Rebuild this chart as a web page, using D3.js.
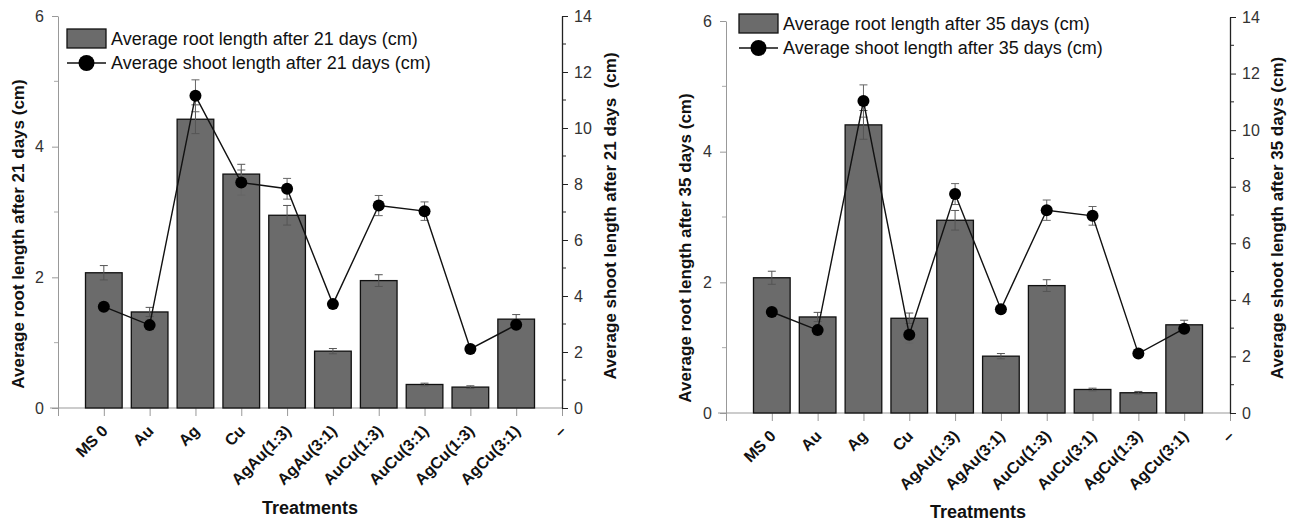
<!DOCTYPE html>
<html>
<head>
<meta charset="utf-8">
<script src="https://d3js.org/d3.v7.min.js"></script>
<style>
    body { margin: 0; background: #fff; }
    svg text { font-family: Arial, "Liberation Sans", sans-serif; }
</style>
</head>
<body>
<svg id="chart" width="1295" height="524"></svg>
<script>
// treatments on the x axis (last tick is the stray dash of the original)
var categories = ["MS 0", "Au", "Ag", "Cu", "AgAu(1:3)", "AgAu(3:1)", "AuCu(1:3)", "AuCu(3:1)", "AgCu(1:3)", "AgCu(3:1)"];
var endLabel = "\u2013";

// 21 days
var root21 = [2.07, 1.47, 4.42, 3.58, 2.95, 0.87, 1.95, 0.36, 0.32, 1.36];
var root21Err = [0.11, 0.07, 0.22, 0.15, 0.15, 0.04, 0.09, 0.02, 0.02, 0.07];
var shoot21 = [3.62, 2.96, 11.15, 8.05, 7.83, 3.71, 7.23, 7.03, 2.11, 2.97];
var shoot21Err = [0.15, 0.2, 0.57, 0.45, 0.37, 0.1, 0.36, 0.33, 0.08, 0.12];

// 35 days
var root35 = [2.07, 1.47, 4.41, 1.45, 2.95, 0.87, 1.95, 0.36, 0.31, 1.35];
var root35Err = [0.1, 0.07, 0.22, 0.08, 0.15, 0.04, 0.09, 0.02, 0.02, 0.07];
var shoot35 = [3.57, 2.93, 11.03, 2.77, 7.74, 3.67, 7.17, 6.97, 2.1, 2.98];
var shoot35Err = [0.15, 0.2, 0.57, 0.3, 0.37, 0.1, 0.36, 0.33, 0.08, 0.12];

var rootTicks = [0, 2, 4, 6];
var rootMinor = [1, 3, 5];
var shootTicks = [0, 2, 4, 6, 8, 10, 12, 14];
var shootMinor = [1, 3, 5, 7, 9, 11, 13];

var barColor = "#6b6b6b";
var svg = d3.select("#chart");

function drawPanel(p) {
    var g = svg.append("g");

    var x = d3.scaleLinear().domain([0, categories.length + 1]).range([p.x0, p.x1]);
    var yL = d3.scaleLinear().domain([0, 6]).range([p.yZero, p.yTopL]);
    var yR = d3.scaleLinear().domain([0, 14]).range([p.yZero, p.yTopR]);
    var bw = (x(1) - x(0)) * 0.8;

    // bottom axis
    var xAxis = g.append("g")
        .attr("transform", "translate(0," + p.yZero + ")")
        .call(d3.axisBottom(x)
            .tickValues(d3.range(0, categories.length + 2))
            .tickSize(8)
            .tickFormat(function () { return ""; }));
    xAxis.select(".domain").attr("stroke", "#999").attr("d", "M" + (p.x0 - 8) + ",0H" + p.x1);
    xAxis.selectAll(".tick line").attr("stroke", "#999");

    var labels = categories.concat([endLabel]);
    g.selectAll(".xlab")
        .data(labels)
        .enter().append("text")
        .attr("class", "xlab")
        .attr("text-anchor", "end")
        .attr("transform", function (d, i) {
            return "translate(" + (x(i + 1) + 1) + "," + (p.yZero + 20) + ") rotate(-45)";
        })
        .attr("dy", "0.35em")
        .style("font-size", "16px")
        .style("font-weight", "bold")
        .style("fill", "#111")
        .text(function (d) { return d; });

    // left axis
    var la = g.append("g")
        .attr("transform", "translate(" + p.x0 + ",0)")
        .call(d3.axisLeft(yL).tickValues(rootTicks).tickFormat(d3.format("d"))
            .tickSize(6).tickSizeOuter(0).tickPadding(8));
    la.select(".domain").attr("stroke", "#999");
    la.selectAll(".tick line").attr("stroke", "#999");
    la.selectAll(".tick text").style("font-size", "16px").style("fill", "#333");
    g.selectAll(".lminor").data(rootMinor).enter().append("line")
        .attr("x1", p.x0).attr("x2", p.x0 - 4)
        .attr("y1", function (d) { return yL(d); }).attr("y2", function (d) { return yL(d); })
        .attr("stroke", "#aaa");

    // right axis
    var ra = g.append("g")
        .attr("transform", "translate(" + p.x1 + ",0)")
        .call(d3.axisRight(yR).tickValues(shootTicks).tickFormat(d3.format("d"))
            .tickSize(6).tickSizeOuter(0).tickPadding(6));
    ra.select(".domain").attr("stroke", "#222").attr("stroke-width", 1.3);
    ra.selectAll(".tick line").attr("stroke", "#222");
    ra.selectAll(".tick text").style("font-size", "16px").style("fill", "#333");
    g.selectAll(".rminor").data(shootMinor).enter().append("line")
        .attr("x1", p.x1).attr("x2", p.x1 + 4)
        .attr("y1", function (d) { return yR(d); }).attr("y2", function (d) { return yR(d); })
        .attr("stroke", "#222");

    // bars
    g.selectAll(".bar")
        .data(p.root)
        .enter().append("rect")
        .attr("class", "bar")
        .attr("x", function (d, i) { return x(i + 1) - bw / 2; })
        .attr("y", function (d) { return yL(d); })
        .attr("width", bw)
        .attr("height", function (d) { return yL(0) - yL(d); })
        .attr("fill", barColor)
        .attr("stroke", "#111")
        .attr("stroke-width", 1.3);

    // error bars
    function errBars(vals, errs, y, color) {
        vals.forEach(function (v, i) {
            var cx = x(i + 1), t = y(v + errs[i]), b = y(v - errs[i]);
            g.append("line").attr("x1", cx).attr("x2", cx).attr("y1", t).attr("y2", b).attr("stroke", color);
            g.append("line").attr("x1", cx - 4).attr("x2", cx + 4).attr("y1", t).attr("y2", t).attr("stroke", color);
            g.append("line").attr("x1", cx - 4).attr("x2", cx + 4).attr("y1", b).attr("y2", b).attr("stroke", color);
        });
    }
    errBars(p.root, p.rootErr, yL, "#555");
    errBars(p.shoot, p.shootErr, yR, "#666");

    // shoot line
    var line = d3.line()
        .x(function (d, i) { return x(i + 1); })
        .y(function (d) { return yR(d); });
    g.append("path")
        .datum(p.shoot)
        .attr("d", line)
        .attr("fill", "none")
        .attr("stroke", "#111")
        .attr("stroke-width", 1.4);
    g.selectAll(".dot")
        .data(p.shoot)
        .enter().append("circle")
        .attr("cx", function (d, i) { return x(i + 1); })
        .attr("cy", function (d) { return yR(d); })
        .attr("r", 6)
        .attr("fill", "#000");

    // axis titles
    g.append("text")
        .attr("transform", "translate(" + p.lTitleX + "," + p.lTitleY + ") rotate(-90)")
        .attr("text-anchor", "middle").attr("dy", "0.35em")
        .style("font-size", "17px").style("font-weight", "bold").style("fill", "#111")
        .text(p.leftTitle);
    g.append("text")
        .attr("transform", "translate(" + p.rTitleX + "," + p.rTitleY + ") rotate(-90)")
        .attr("text-anchor", "middle").attr("dy", "0.35em")
        .style("font-size", "17px").style("font-weight", "bold").style("fill", "#111")
        .style("white-space", "pre")
        .text(p.rightTitle);
    g.append("text")
        .attr("x", p.xTitleX).attr("y", p.xTitleY)
        .attr("text-anchor", "middle")
        .style("font-size", "18px").style("font-weight", "bold").style("fill", "#111")
        .text("Treatments");

    // legend
    var lg = g.append("g").attr("transform", "translate(" + p.legX + "," + p.legY + ")");
    lg.append("rect").attr("x", 0).attr("y", 0).attr("width", 39).attr("height", 19)
        .attr("fill", barColor).attr("stroke", "#111").attr("stroke-width", 1.3);
    lg.append("text").attr("x", 44).attr("y", 10).attr("dy", "0.35em")
        .style("font-size", "18px").style("fill", "#111").text(p.rootLegend);
    lg.append("line").attr("x1", 0).attr("x2", 39).attr("y1", 34).attr("y2", 34)
        .attr("stroke", "#111").attr("stroke-width", 1.4);
    lg.append("circle").attr("cx", 19.5).attr("cy", 34).attr("r", 8).attr("fill", "#000");
    lg.append("text").attr("x", 44).attr("y", 34).attr("dy", "0.35em")
        .style("font-size", "18px").style("fill", "#111").text(p.shootLegend);
}

drawPanel({
    x0: 58, x1: 562, yZero: 408, yTopL: 16, yTopR: 16,
    root: root21, rootErr: root21Err, shoot: shoot21, shootErr: shoot21Err,
    leftTitle: "Average root length after 21 days (cm)",
    rightTitle: "Average shoot length after 21 days  (cm)",
    lTitleX: 18, lTitleY: 234, rTitleX: 610, rTitleY: 216,
    xTitleX: 310, xTitleY: 514,
    legX: 67, legY: 29,
    rootLegend: "Average root length after 21 days (cm)",
    shootLegend: "Average shoot length after 21 days (cm)"
});

drawPanel({
    x0: 726, x1: 1230, yZero: 413, yTopL: 21, yTopR: 17,
    root: root35, rootErr: root35Err, shoot: shoot35, shootErr: shoot35Err,
    leftTitle: "Average root length after 35 days (cm)",
    rightTitle: "Average shoot length after 35 days (cm)",
    lTitleX: 685, lTitleY: 248, rTitleX: 1277, rTitleY: 218,
    xTitleX: 978, xTitleY: 518,
    legX: 739, legY: 14,
    rootLegend: "Average root length after 35 days (cm)",
    shootLegend: "Average shoot length after 35 days (cm)"
});
</script>
</body>
</html>
